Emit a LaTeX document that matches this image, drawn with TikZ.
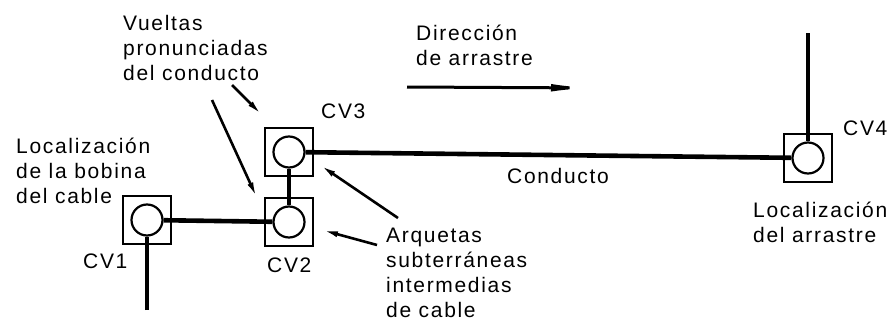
\documentclass[tikz,border=0pt]{standalone}
\usepackage{fontspec}
\setmainfont{Liberation Sans}[LetterSpace=8.0]
\usepackage{tikz}
\usetikzlibrary{arrows.meta,positioning}

\begin{document}
\begin{tikzpicture}[
        x=1pt, y=-1pt,
        duct/.style={line width=4.6pt},
        pit/.style={draw, line width=2.2pt, minimum size=48pt, inner sep=0pt},
        hole/.style={draw, circle, line width=2.2pt, minimum size=31pt, inner sep=0pt},
        leader/.style={line width=2.6pt, -{Latex[length=16pt,width=6pt]}},
        lbl/.style={font=\fontsize{21}{25}\selectfont, inner sep=0pt, align=left},
    ]
    \useasboundingbox (0,0) rectangle (891,324);

    % Arquetas (box with circle)
    \node[pit] (cv1) at (147,220) {};
    \node[hole] (cv1c) at (cv1.center) {};
    \node[pit] (cv2) at (289,222) {};
    \node[hole] (cv2c) at (cv2.center) {};
    \node[pit] (cv3) at (289,152) {};
    \node[hole] (cv3c) at (cv3.center) {};
    \node[pit] (cv4) at (808,158) {};
    \node[hole] (cv4c) at (cv4.center) {};

    % Box names
    \node[lbl, anchor=base west] at (83,268) {CV1};
    \node[lbl, anchor=base west] at (267,272) {CV2};
    \node[lbl, anchor=base west] at (321,118) {CV3};
    \node[lbl, anchor=base west] at (843,135) {CV4};

    % Conducto
    \coordinate (cvtail) at (147,310);
    \coordinate (cvhead) at (808,33);
    \draw[duct] (cvtail) -- (cv1c);
    \draw[duct] (cv1c) -- (cv2c);
    \draw[duct] (cv2c) -- (cv3c);
    \draw[duct] (cv3c) -- (cv4c);
    \draw[duct] (cvhead) -- (cv4c);
    \node[lbl, anchor=base west] (conducto) at (507,183) {Conducto};

    % Direction of pulling
    \node[lbl, anchor=north west] (dir) at (416,25) {Dirección\\de arrastre};
    \coordinate (dirA) at (407,87);
    \coordinate (dirB) at (597,88);
    \draw[line width=3pt, -{Latex[length=46pt,width=7.5pt]}] (dirA) -- (dirB);

    % Left and right labels
    \node[lbl, anchor=north west] (bobina) at (16,138) {Localización\\de la bobina\\del cable};
    \node[lbl, anchor=north west] (arrastre) at (753,202) {Localización\\del arrastre};

    % Vueltas pronunciadas -> CV3, CV2
    \node[lbl, anchor=north west] (vueltas) at (123,15) {Vueltas\\pronunciadas\\del conducto};
    \coordinate (v1a) at (232,85);
    \coordinate (v1b) at (262,115);
    \coordinate (v2a) at (212,100);
    \coordinate (v2b) at (257,198);
    \draw[leader] (v1a) -- (v1b);
    \draw[leader] (v2a) -- (v2b);

    % Arquetas intermedias -> CV3, CV2
    \node[lbl, anchor=north west] (arquetas) at (386,228) {Arquetas\\subterráneas\\intermedias\\de cable};
    \coordinate (a1a) at (398,218);
    \coordinate (a1b) at (320,165);
    \coordinate (a2a) at (377,245);
    \coordinate (a2b) at (322,230);
    \draw[leader] (a1a) -- (a1b);
    \draw[leader] (a2a) -- (a2b);

\end{tikzpicture}
\end{document}
